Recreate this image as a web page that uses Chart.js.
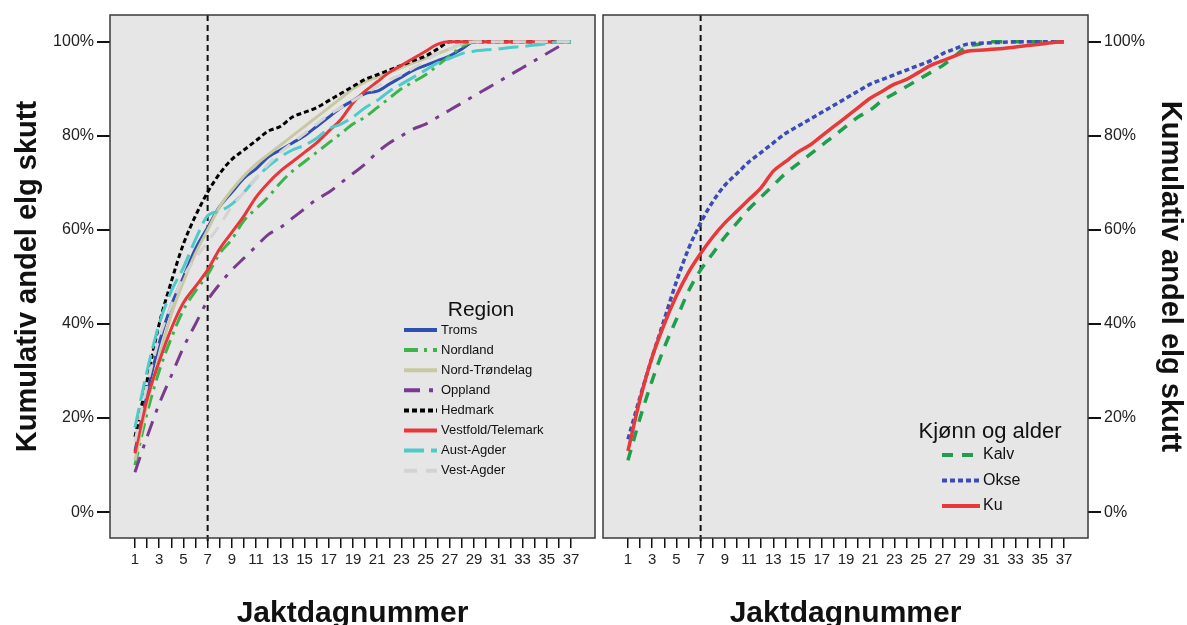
<!DOCTYPE html>
<html lang="no">
<head>
<meta charset="UTF-8">
<title>Kumulativ andel elg skutt</title>
<script src="https://cdn.jsdelivr.net/npm/chart.js"></script>
<style>
  body { margin: 0; background: #fff; }
  #wrap { position: relative; width: 1187px; height: 625px; }
  #leftChart { position: absolute; left: 0; top: 0; }
  #rightChart { position: absolute; left: 600px; top: 0; }
</style>
</head>
<body>
<div id="wrap">
  <canvas id="leftChart" width="600" height="625"></canvas>
  <canvas id="rightChart" width="587" height="625"></canvas>
</div>
<script>
// jaktdag 1..37
const days = Array.from({ length: 37 }, (_, i) => i + 1);
const yTicks = [0, 20, 40, 60, 80, 100];

// Region (prosent kumulativt per jaktdag)
const troms = [13, 25, 36, 44, 50, 56, 60.5, 65, 68, 71, 73, 75.5, 77, 78.5, 80, 82, 84, 86, 87.5, 89, 89.5, 91, 92.5, 94, 95, 96, 97, 98.5, 100, 100, 100, 100, 100, 100, 100, 100, 100];
const nordland = [10, 21, 30, 37, 43, 47, 50.5, 55, 58, 62, 64.5, 67, 70, 72.5, 74.5, 76.5, 78.5, 80.5, 82.5, 84, 86, 88, 90, 91.5, 93, 95, 97, 99, 100, 100, 100, 100, 100, 100, 100, 100, 100];
const nordTrondelag = [11, 23, 33, 42, 49, 55, 60, 65, 68.5, 71.5, 74, 76, 78, 80, 82, 84, 86, 88, 90, 91.5, 92.5, 93.5, 94.5, 95.5, 96.5, 97.5, 98.5, 99.5, 100, 100, 100, 100, 100, 100, 100, 100, 100];
const oppland = [8.5, 16, 23, 29, 35, 40, 45, 48.5, 51.5, 54, 56.5, 59, 60.5, 62.5, 64.5, 66.5, 68, 70, 72, 74, 76.5, 78.5, 80, 81.5, 82.5, 84, 85.5, 87, 88.5, 90, 91.5, 93, 94.5, 96, 97.5, 99, null];
const hedmark = [16, 28, 40, 49, 57, 63, 68, 72, 75, 77, 79, 81, 82, 84, 85, 86, 87.5, 89, 90.5, 92, 93, 94, 95, 96, 97, 98.5, 100, 100, 100, 100, 100, 100, 100, 100, 100, 100, 100];
const vestfoldTelemark = [12.5, 24, 32, 39, 44.5, 48, 51.5, 56, 59.5, 63, 67, 70, 72.5, 74.5, 76.5, 78.5, 81, 83.5, 87, 89.5, 91.5, 93.5, 95, 96.5, 98, 99.5, 100, 100, 100, 100, 100, 100, 100, 100, 100, 100, 100];
const austAgder = [18, 30, 40, 47, 52, 58, 63, 64, 65.5, 68, 71, 73.5, 75.5, 77, 78, 79.5, 81.5, 82.5, 84, 86, 87.5, 89.5, 91, 92.5, 94, 95.5, 96.5, 97.5, 98, 98.3, 98.5, 98.8, 99, 99.3, 99.6, 100, 100];
const vestAgder = [15, 27, 37, 44, 50, 54, 57.5, 61, 65, 68, 71, 74, 76.5, 78.5, 80.5, 82.5, 84.5, 86, 87.5, 89, 90.5, 92, 93, 94.5, 96, 97.5, 98.5, 99.5, 100, 100, 100, 100, 100, 100, 100, 100, 100];

// Kjønn og alder
const kalv = [11, 20, 28, 35, 41, 47, 51.5, 55, 58.5, 61.5, 64.5, 67, 69.5, 72, 74, 76, 78, 80, 82, 84, 85.5, 87.5, 89, 90.5, 92, 93.5, 95, 97, 99, 99.5, 100, 100, 100, 100, 100, 100, 100];
const okse = [15.5, 24.5, 33, 41, 49, 56, 61.5, 66, 69.5, 72, 74.5, 76.5, 78.5, 80.5, 82, 83.5, 85, 86.5, 88, 89.5, 91, 92, 93, 94, 95, 96, 97.5, 98.5, 99.5, 99.7, 99.8, 99.9, 100, 100, 100, 100, 100];
const ku = [13, 24, 33, 40, 46, 51, 55, 58.5, 61.5, 64, 66.5, 69, 72.5, 74.5, 76.5, 78, 80, 82, 84, 86, 88, 89.5, 91, 92, 93.5, 95, 96, 97, 98, 98.2, 98.4, 98.6, 98.9, 99.2, 99.5, 99.8, 100];

const regionNames = ['Troms', 'Nordland', 'Nord-Trøndelag', 'Oppland', 'Hedmark', 'Vestfold/Telemark', 'Aust-Agder', 'Vest-Agder'];
const regionValues = [troms, nordland, nordTrondelag, oppland, hedmark, vestfoldTelemark, austAgder, vestAgder];
const regionColors = ['#2f4fb0', '#3bb54a', '#c9c8a0', '#7a3b8f', '#000000', '#e8363a', '#4fcaca', '#d3d3d3'];
const regionDashes = [[], [14, 6, 3, 6], [], [16, 9, 4, 9], [5, 3], [], [20, 7], [13, 9]];

const groupNames = ['Kalv', 'Okse', 'Ku'];
const groupValues = [kalv, okse, ku];
const groupColors = ['#1f9e4c', '#3a4db5', '#e8383a'];
const groupDashes = [[11, 9], [5, 3], []];

const FONT = "'Liberation Sans', Arial, sans-serif";
Chart.defaults.font.family = FONT;
Chart.defaults.color = '#222';

const panelPlugin = {
  id: 'panel',
  beforeDraw(chart) {
    const { ctx, chartArea: a } = chart;
    ctx.save();
    ctx.fillStyle = '#e6e6e6';
    ctx.fillRect(a.left, a.top, a.right - a.left, a.bottom - a.top);
    ctx.restore();
  },
  beforeDatasetsDraw(chart) {
    const { ctx, chartArea: a, scales } = chart;
    const x = scales.x.getPixelForValue(7);
    ctx.save();
    ctx.strokeStyle = '#111';
    ctx.lineWidth = 2;
    ctx.setLineDash([6, 4]);
    ctx.beginPath();
    ctx.moveTo(x, a.top);
    ctx.lineTo(x, a.bottom + 4);
    ctx.stroke();
    ctx.restore();
  },
  afterDraw(chart) {
    const { ctx, chartArea: a } = chart;
    ctx.save();
    ctx.strokeStyle = '#3a3a3a';
    ctx.lineWidth = 1.5;
    ctx.strokeRect(a.left, a.top, a.right - a.left, a.bottom - a.top);
    ctx.restore();
  }
};

const insideLegend = {
  id: 'insideLegend',
  afterDatasetsDraw(chart, args, o) {
    const ctx = chart.ctx;
    ctx.save();
    ctx.fillStyle = '#111';
    ctx.textBaseline = 'middle';
    ctx.textAlign = 'center';
    ctx.font = o.titleSize + 'px ' + FONT;
    ctx.fillText(o.title, o.titleX, o.titleY);
    ctx.textAlign = 'left';
    ctx.font = o.size + 'px ' + FONT;
    chart.data.datasets.forEach((ds, i) => {
      const y = o.y + i * o.step;
      ctx.strokeStyle = ds.borderColor;
      ctx.lineWidth = o.lineWidth;
      ctx.setLineDash(ds.borderDash || []);
      ctx.beginPath();
      ctx.moveTo(o.x, y);
      ctx.lineTo(o.x + o.len, y);
      ctx.stroke();
      ctx.setLineDash([]);
      ctx.fillText(ds.label, o.x + o.len + o.gap, y);
    });
    ctx.restore();
  }
};

function makeDatasets(names, values, colors, dashes, width) {
  return names.map((name, i) => ({
    label: name,
    data: values[i].map((v, k) => ({ x: days[k], y: v })),
    borderColor: colors[i],
    backgroundColor: colors[i],
    borderDash: dashes[i],
    borderWidth: width,
    pointRadius: 0,
    tension: 0.25,
    cubicInterpolationMode: 'monotone',
    fill: false,
    order: names.length - i
  }));
}

function xScale() {
  return {
    type: 'linear',
    min: -1.06,
    max: 38.98,
    afterBuildTicks: s => { s.ticks = days.map(v => ({ value: v })); },
    afterFit: s => { s.height = 87; },
    ticks: {
      autoSkip: false, maxRotation: 0, minRotation: 0, padding: 3,
      font: { size: 15 }, color: '#222',
      callback: v => (v % 2 === 1 ? String(v) : '')
    },
    grid: { drawOnChartArea: false, drawTicks: true, tickLength: 10, color: '#111', lineWidth: 1.5 },
    border: { display: false },
    title: {
      display: true, text: 'Jaktdagnummer', color: '#111',
      font: { size: 30, weight: 'bold', lineHeight: 1 }, padding: { top: 0, bottom: -4 }
    }
  };
}

function yScale(position, width) {
  return {
    type: 'linear',
    position: position,
    min: -5.5,
    max: 105.7,
    afterBuildTicks: s => { s.ticks = yTicks.map(v => ({ value: v })); },
    afterFit: s => { s.width = width; },
    ticks: { padding: 3, font: { size: 16 }, color: '#222', callback: v => v + '%' },
    grid: { drawOnChartArea: false, drawTicks: true, tickLength: 13, color: '#111', lineWidth: 2 },
    border: { display: false },
    title: {
      display: true, text: 'Kumulativ andel elg skutt', color: '#111',
      font: { size: 29, weight: 'bold', lineHeight: 1 },
      padding: position === 'left' ? { top: 13, bottom: 0 } : { top: 3, bottom: 0 }
    }
  };
}

new Chart(document.getElementById('leftChart'), {
  type: 'line',
  data: { datasets: makeDatasets(regionNames, regionValues, regionColors, regionDashes, 3) },
  options: {
    responsive: false,
    animation: false,
    devicePixelRatio: 1,
    layout: { padding: { top: 15, right: 5, left: 0, bottom: 0 } },
    scales: { x: xScale(), y: yScale('left', 110) },
    plugins: {
      legend: { display: false },
      tooltip: { enabled: false },
      insideLegend: {
        title: 'Region', titleSize: 21, titleX: 481, titleY: 310,
        size: 13, x: 404, len: 33, gap: 4, y: 330, step: 20.1, lineWidth: 4
      }
    }
  },
  plugins: [panelPlugin, insideLegend]
});

new Chart(document.getElementById('rightChart'), {
  type: 'line',
  data: { datasets: makeDatasets(groupNames, groupValues, groupColors, groupDashes, 3.5) },
  options: {
    responsive: false,
    animation: false,
    devicePixelRatio: 1,
    layout: { padding: { top: 15, right: 0, left: 3, bottom: 0 } },
    scales: { x: xScale(), y: yScale('right', 99) },
    plugins: {
      legend: { display: false },
      tooltip: { enabled: false },
      insideLegend: {
        title: 'Kjønn og alder', titleSize: 22, titleX: 390, titleY: 432,
        size: 16, x: 342, len: 38, gap: 3, y: 455, step: 25.5, lineWidth: 4
      }
    }
  },
  plugins: [panelPlugin, insideLegend]
});
</script>
</body>
</html>
